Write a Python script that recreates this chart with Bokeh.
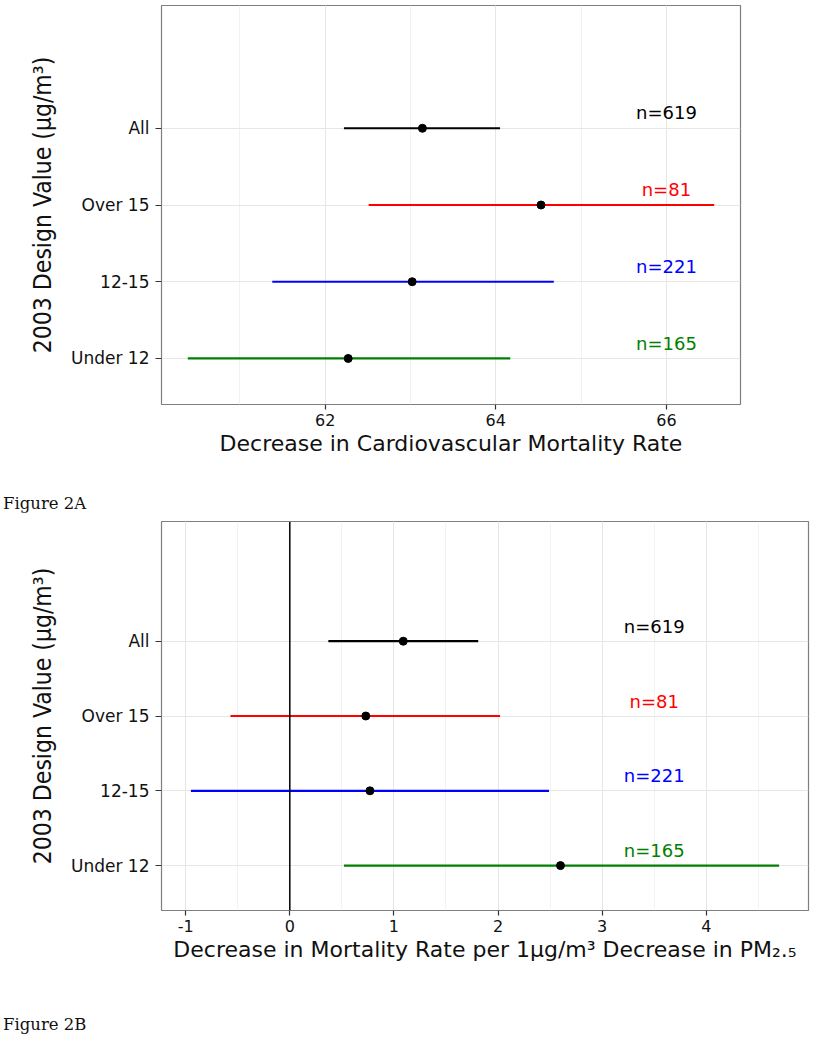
from bokeh.plotting import figure
from bokeh.models import SingleIntervalTicker, FixedTicker, Span, Div
from bokeh.layouts import column
from bokeh.core.properties import value
from bokeh.embed import file_html
from bokeh.resources import INLINE

# ---- data ----
categories = ["All", "Over 15", "12-15", "Under 12"]
colors = ["#000000", "#FF0000", "#0000FF", "#008000"]
counts = ["n=619", "n=81", "n=221", "n=165"]

a_est = [63.14, 64.53, 63.02, 62.27]
a_low = [62.22, 62.51, 61.38, 60.39]
a_high = [64.05, 66.56, 64.68, 64.17]
a_label_x = 66
a_tick_step = 2

b_est = [1.09, 0.73, 0.77, 2.60]
b_low = [0.37, -0.57, -0.95, 0.52]
b_high = [1.81, 2.02, 2.49, 4.70]
b_label_x = 3.5
b_tick_step = 1
b_tick_labels = {-1: "-1", 0: "0", 1: "1", 2: "2", 3: "3", 4: "4"}

y_title = "2003 Design Value (\u03bcg/m\u00b3)"
a_xtitle = "Decrease in Cardiovascular Mortality Rate"
b_xtitle = "Decrease in Mortality Rate per 1\u03bcg/m\u00b3 Decrease in PM\u2082.\u2085"

SANS = "DejaVu Sans"
NARROW = "'Liberation Sans Narrow', 'DejaVu Sans Condensed', 'Liberation Sans', sans-serif"

n_levels = len(categories) + 1  # one blank level at top
levels = [len(categories) - i for i in range(len(categories))]


def panel(est, low, high, label_x, step, xtitle, width, height, bl, br, bt, bb, zero_line=False):
    lo = min(low)
    hi = max(high + [label_x])
    pad = 0.05 * (hi - lo)
    p = figure(width=width, height=height, output_backend="svg", toolbar_location=None,
               x_range=(lo - pad, hi + pad), y_range=(0.4, n_levels + 0.6),
               min_border_left=bl, min_border_right=br, min_border_top=bt, min_border_bottom=bb)
    p.background_fill_color = "white"
    p.border_fill_color = "white"
    p.outline_line_color = "#7F7F7F"
    p.outline_line_width = 1.2

    p.xaxis.ticker = SingleIntervalTicker(interval=step, num_minor_ticks=2)
    p.yaxis.ticker = FixedTicker(ticks=levels)
    p.yaxis.major_label_overrides = {lv: c for lv, c in zip(levels, categories)}

    for ax in (p.xaxis, p.yaxis):
        ax.axis_line_color = None
        ax.major_tick_line_color = "#333333"
        ax.major_tick_line_width = 1.2
        ax.major_tick_in = 0
        ax.minor_tick_line_color = None
        ax.major_label_text_color = "#111111"
        ax.axis_label_text_color = "#111111"
        ax.axis_label_text_font_style = "normal"

    p.xaxis.major_tick_out = 5
    p.xaxis.major_label_standoff = 4
    p.xaxis.major_label_text_font = SANS
    p.xaxis.major_label_text_font_size = "16px"
    p.xaxis.axis_label = xtitle
    p.xaxis.axis_label_text_font = SANS
    p.xaxis.axis_label_text_font_size = "22px"
    p.xaxis.axis_label_standoff = 2

    p.yaxis.major_tick_out = 6
    p.yaxis.major_label_standoff = 6
    p.yaxis.major_label_text_font = SANS
    p.yaxis.major_label_text_font_size = "17px"
    p.yaxis.axis_label = y_title
    p.yaxis.axis_label_text_font = NARROW
    p.yaxis.axis_label_text_font_size = "24.5px"
    p.yaxis.axis_label_standoff = 11

    p.xgrid.grid_line_color = "#E6E6E6"
    p.xgrid.grid_line_width = 1
    p.xgrid.minor_grid_line_color = "#F2F2F2"
    p.ygrid.grid_line_color = "#E6E6E6"
    p.ygrid.minor_grid_line_color = None

    if zero_line:
        p.add_layout(Span(location=0, dimension="height", line_color="black", line_width=1.5))

    p.segment(x0=low, y0=levels, x1=high, y1=levels, line_color=colors, line_width=2.2)
    p.scatter(x=est, y=levels, size=8, fill_color="black", line_color="black")
    p.text(x=[label_x] * len(counts), y=[lv + 0.2 for lv in levels], text=counts,
           text_color=colors, text_align="center", text_baseline="middle",
           text_font=value(SANS), text_font_size="18px")
    return p


p1 = panel(a_est, a_low, a_high, a_label_x, a_tick_step, a_xtitle, 750, 492, 161, 10, 5, 88)
p2 = panel(b_est, b_low, b_high, b_label_x, b_tick_step, b_xtitle, 818, 501, 161, 3, 9, 103,
           zero_line=True)
p2.xaxis.major_label_overrides = b_tick_labels

div_style = {"font-family": "'DejaVu Serif', serif", "font-size": "16.5px", "color": "#111111"}
d1 = Div(text="Figure 2A", width=200, height=20, margin=(0, 0, 0, 3), styles=div_style)
d2 = Div(text="Figure 2B", width=200, height=20, margin=(0, 0, 0, 3), styles=div_style)

layout = column(p1, d1, p2, d2, spacing=0)
open("out.html", "w").write(file_html(layout, INLINE))
